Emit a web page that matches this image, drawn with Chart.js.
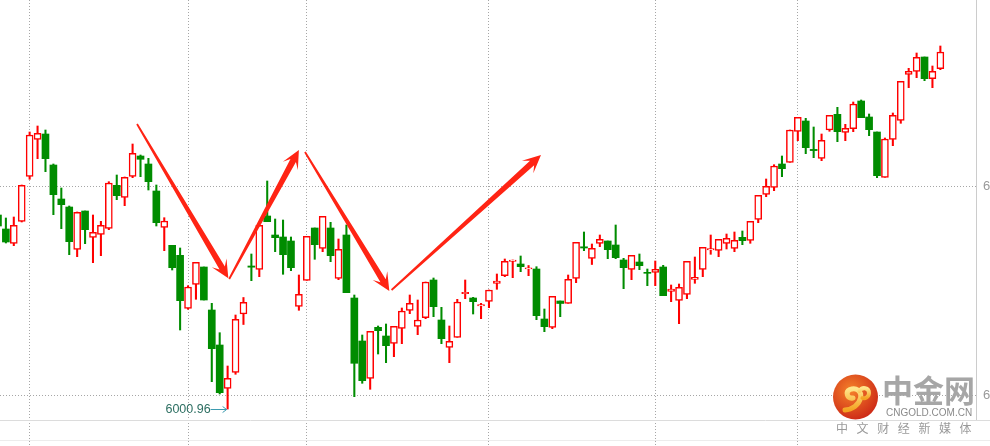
<!DOCTYPE html>
<html><head><meta charset="utf-8">
<script src="https://cdn.jsdelivr.net/npm/chart.js@4/dist/chart.umd.min.js"></script>
<style>
html,body{margin:0;padding:0;background:#fff;overflow:hidden;width:990px;height:446px;position:relative;}
#wrap{position:absolute;left:-7px;top:0;width:1030px;height:446px;}
.t{position:absolute;white-space:nowrap;line-height:1;}
#l440{position:absolute;left:0;top:440px;width:990px;height:1px;background:#ececec;}
</style></head><body>
<div id="wrap"><canvas id="c" width="1030" height="446" style="width:1030px;height:446px"></canvas></div>
<div id="l440"></div>
<svg style="position:absolute;left:832px;top:374px" width="48" height="48" viewBox="0 0 48 48">
<defs>
<radialGradient id="g" cx="40%" cy="35%" r="70%"><stop offset="0" stop-color="#f5822a"/><stop offset="1" stop-color="#cc2716"/></radialGradient>
<linearGradient id="yy" x1="0" y1="0" x2="0" y2="1"><stop offset="0" stop-color="#ffe58a"/><stop offset="1" stop-color="#f4a322"/></linearGradient>
</defs>
<circle cx="23.5" cy="23" r="22.5" fill="url(#g)"/>
<path d="M21 24 C15 25 13 18 18 15.5 C24 13 30 17 28.5 24 C27 31 20 35.5 13 36" fill="none" stroke="url(#yy)" stroke-width="5" stroke-linecap="round"/>
<path d="M27.5 17 C30 12.5 37 13.5 37 19 C37 23 33 25 30.5 24" fill="none" stroke="url(#yy)" stroke-width="4" stroke-linecap="round"/>
</svg>
<div class="t" style="left:882px;top:373px;font-size:31px;font-weight:bold;color:#a6a6a6;font-family:'Noto Sans CJK SC',sans-serif;">中金网</div>
<div class="t" style="left:886px;top:408px;font-size:10px;line-height:10px;color:#8a8a8a;font-family:'Liberation Sans',Arial,sans-serif;">CNGOLD.COM.CN</div>
<div class="t" style="left:836px;top:422px;font-size:12px;letter-spacing:8.6px;color:#9a9a9a;font-family:'Noto Sans CJK SC',sans-serif;">中文财经新媒体</div>
<script>
// ---- data (one entry per trading day) ----
const categories = Array.from({length:124}, (_, i) => 'D' + (i + 1));
const opens = [
6195, 6181, 6166.7, 6188.7, 6233.7, 6270.7, 6276, 6245, 6211, 6203,
6160.7, 6199, 6172.7, 6175.7, 6181.7, 6224.7, 6212.7, 6233.7, 6254, 6246,
6219, 6182.7, 6164.7, 6154.7, 6101.7, 6125.7, 6143, 6100, 6065, 6021.7,
6037.7, 6096, 6144, 6140.7, 6194, 6175, 6173, 6169, 6103.7, 6129.7,
6182, 6161.7, 6182, 6131.7, 6175, 6112, 6069, 6031.7, 6082.7, 6074,
6066.7, 6081.7, 6099.7, 6083.7, 6092.3, 6130, 6090, 6062.7, 6072.7, 6116.4,
6112, 6104.1, 6108.7, 6126.7, 6134.3, 6148.7, 6146, 6141, 6141, 6091,
6082.5, 6109, 6106.7, 6131.7, 6163.2, 6151.7, 6166.5, 6169, 6165, 6150,
6140.7, 6148, 6137.7, 6137.7, 6143, 6118.7, 6109.7, 6115.7, 6130.7, 6140.7,
6160.1, 6159.7, 6166.7, 6161.7, 6172.7, 6169.7, 6190.7, 6215.7, 6222.7, 6246,
6247.7, 6278.7, 6289, 6260.6, 6251.7, 6280, 6295.7, 6277.7, 6281.3, 6309,
6293, 6278, 6232.7, 6270.7, 6289.7, 6335.7, 6338.7, 6353, 6331.3, 6341.3];
const closes = [
6184, 6168, 6184.7, 6224.7, 6275, 6276.7, 6251.3, 6215.3, 6205.3, 6168.3,
6197.7, 6180.3, 6177.7, 6184.7, 6227, 6214.3, 6232.7, 6256.7, 6250.7, 6228.3,
6187.3, 6189, 6142.3, 6109.3, 6123, 6147.7, 6110, 6061.3, 6017.3, 6031.7,
6090.7, 6107.7, 6142.8, 6184.7, 6188.3, 6172.3, 6155.3, 6142.3, 6115.7, 6173.7,
6165.3, 6193.7, 6154.3, 6160.7, 6117.3, 6046.7, 6029.3, 6078.7, 6079.3, 6064.3,
6083.7, 6099, 6106.7, 6090, 6128, 6103.3, 6071.3, 6068.7, 6108, 6117.6,
6108.3, 6105.3, 6120, 6129, 6148.7, 6150, 6143.3, 6142.2, 6094.3, 6083.3,
6113.7, 6106.5, 6130.7, 6167.7, 6162, 6161.7, 6170.7, 6160.3, 6152.3, 6142.3,
6154.7, 6144.3, 6136.7, 6140.7, 6114.3, 6121, 6122.7, 6148.7, 6132.7, 6162.7,
6161.3, 6170.7, 6171.7, 6169.7, 6169.3, 6188.7, 6214.7, 6223.7, 6244, 6241.3,
6280, 6292.7, 6262.3, 6259.4, 6269.7, 6294.7, 6278.3, 6281.7, 6306, 6292.3,
6280.3, 6234.3, 6271, 6294.7, 6328.7, 6338.7, 6352.7, 6331.3, 6338.7, 6358];
const highs = [
6198, 6192, 6193, 6225, 6278, 6284, 6280, 6246, 6222, 6204,
6198, 6199, 6195, 6188.7, 6228.3, 6235, 6233, 6266, 6255, 6251.7,
6225, 6192.3, 6164.7, 6162, 6124.3, 6147.7, 6143, 6106.7, 6077.3, 6044,
6095, 6112.5, 6156, 6184.7, 6229, 6191, 6190, 6173, 6135, 6173.7,
6182, 6193.7, 6187.7, 6171, 6185, 6115, 6075, 6078.7, 6084, 6086,
6083.7, 6102, 6115, 6110, 6128, 6132, 6102.7, 6084, 6110.7, 6130,
6112.7, 6106.7, 6120, 6136, 6151, 6150, 6154, 6144.5, 6143.3, 6101,
6113.7, 6109, 6135, 6167.7, 6178, 6166, 6175, 6169, 6185, 6151.7,
6154.7, 6156, 6141, 6149, 6144.7, 6125, 6126, 6148.7, 6153, 6162.7,
6175, 6170.7, 6176, 6178, 6179, 6188.7, 6214.7, 6231, 6245.3, 6254,
6280, 6292.7, 6291.7, 6283, 6276, 6294.7, 6302.7, 6285.7, 6308, 6310,
6296, 6278, 6272, 6297, 6328.7, 6341.7, 6357, 6353, 6344, 6364];
const lows = [
6182, 6167, 6164.3, 6188, 6230.7, 6251.3, 6238.3, 6195.3, 6181.3, 6155.3,
6153.3, 6166.3, 6147.3, 6154.3, 6180.3, 6210.3, 6204.3, 6232.3, 6233.3, 6220,
6184, 6159.3, 6140, 6080, 6100.7, 6110.7, 6110, 6028.3, 6016, 6000.96,
6035.7, 6085.5, 6129.3, 6133.3, 6188.3, 6158.3, 6135.7, 6139.3, 6099.7, 6129.7,
6150.7, 6158.3, 6148.3, 6130.3, 6117.3, 6013.3, 6026.7, 6020.7, 6056, 6047.3,
6053.3, 6066.3, 6096.3, 6075.3, 6091.3, 6093.3, 6066.3, 6047.3, 6072.7, 6111.3,
6096, 6091.3, 6102.3, 6120.7, 6133.3, 6132.3, 6138.3, 6134.3, 6090.3, 6078.3,
6081.3, 6093.3, 6106.7, 6127.3, 6159.3, 6145.5, 6163.3, 6151.3, 6151.3, 6121.3,
6130.3, 6140.3, 6124.3, 6124.3, 6114.3, 6108.3, 6086.3, 6111.3, 6126.7, 6133.3,
6155.7, 6153.3, 6161, 6158.3, 6165.3, 6166.7, 6187.3, 6213.3, 6219.3, 6233.3,
6247.7, 6269.3, 6256.3, 6252.3, 6249.3, 6278.7, 6268.3, 6269.3, 6278.3, 6292.3,
6274.3, 6232.3, 6232.7, 6264.3, 6286.7, 6322.3, 6332.3, 6329.3, 6322.3, 6340.3];
const yTicks = [6015, 6224];
const monthStarts = [4, 24, 39, 62, 83, 101];
// trend arrows drawn on the chart: [fromIndex, fromPrice, toIndex, toPrice]
const trendArrows = [
  [17.56, 6286, 29.09, 6131.7],
  [29.2, 6131, 38.0, 6260],
  [38.77, 6258, 49.42, 6119],
  [49.7, 6120, 68.57, 6255]
];

const UP = '#ff0000', DOWN = '#008c00', GRID = '#a6a6a6';
const isUp = i => closes[i] >= opens[i];

function drawArrow(ctx, x0, y0, x1, y1) {
  const dx = x1 - x0, dy = y1 - y0, len = Math.hypot(dx, dy);
  const ux = dx / len, uy = dy / len, nx = -uy, ny = ux;
  const sw0 = 0.9, sw1 = 3.1, Hn = 12, Hb = 18, W = 8.5;
  const jx = x1 - ux * Hn, jy = y1 - uy * Hn;
  const bx = x1 - ux * Hb, by = y1 - uy * Hb;
  ctx.fillStyle = '#ff2414';
  ctx.beginPath();
  ctx.moveTo(x0 + nx * sw0, y0 + ny * sw0);
  ctx.lineTo(jx + nx * sw1, jy + ny * sw1);
  ctx.lineTo(bx + nx * W, by + ny * W);
  ctx.lineTo(x1, y1);
  ctx.lineTo(bx - nx * W, by - ny * W);
  ctx.lineTo(jx - nx * sw1, jy - ny * sw1);
  ctx.lineTo(x0 - nx * sw0, y0 - ny * sw0);
  ctx.closePath();
  ctx.fill();
}

const annot = {
  id: 'annot',
  afterDraw(chart) {
    const {ctx, chartArea, scales: {x, y}} = chart;
    ctx.save();
    ctx.strokeStyle = '#dcdcdc'; ctx.lineWidth = 1;
    const yb = Math.round(chartArea.bottom) + 0.5;
    ctx.beginPath(); ctx.moveTo(0, yb); ctx.lineTo(chart.width, yb); ctx.stroke();
    trendArrows.forEach(a => drawArrow(ctx,
      x.getPixelForValue(a[0]), y.getPixelForValue(a[1]),
      x.getPixelForValue(a[2]), y.getPixelForValue(a[3])));
    const minLow = Math.min(...lows);
    const li = lows.indexOf(minLow);
    const lx = x.getPixelForValue(li) - 1, ly = Math.round(y.getPixelForValue(minLow)) + 0.5;
    ctx.strokeStyle = '#3d9bb0'; ctx.lineWidth = 1;
    ctx.beginPath(); ctx.moveTo(lx - 16, ly); ctx.lineTo(lx, ly);
    ctx.moveTo(lx - 4, ly - 3); ctx.lineTo(lx, ly); ctx.lineTo(lx - 4, ly + 3); ctx.stroke();
    ctx.fillStyle = '#2d6f62';
    ctx.font = '12.5px "Liberation Sans", Arial, sans-serif';
    ctx.textAlign = 'right'; ctx.textBaseline = 'middle';
    ctx.fillText(minLow.toFixed(2), lx - 16, ly);
    ctx.restore();
  }
};

new Chart(document.getElementById('c'), {
  type: 'bar',
  data: {
    labels: categories,
    datasets: [
      {
        label: 'wick', order: 2, grouped: false,
        data: lows.map((l, i) => [l, highs[i]]),
        backgroundColor: lows.map((_, i) => isUp(i) ? UP : DOWN),
        borderWidth: 0, barThickness: 1.4
      },
      {
        label: 'body', order: 1, grouped: false,
        data: opens.map((o, i) => [o, closes[i]]),
        backgroundColor: opens.map((_, i) => isUp(i) ? '#ffffff' : DOWN),
        borderColor: opens.map((_, i) => isUp(i) ? UP : DOWN),
        borderWidth: opens.map((_, i) => isUp(i) ? 1.5 : 0),
        borderSkipped: false, barThickness: 7
      }
    ]
  },
  options: {
    responsive: false, animation: false, devicePixelRatio: 1,
    layout: {padding: {left: 1, right: 0, top: 0, bottom: 0}},
    plugins: {legend: {display: false}, tooltip: {enabled: false}},
    scales: {
      x: {
        type: 'category', offset: true,
        afterFit: s => { s.height = 26; },
        grid: {
          offset: false, drawOnChartArea: true, drawTicks: true, tickLength: 26,
          color: c => monthStarts.includes(c.index) ? GRID : 'rgba(0,0,0,0)',
          tickColor: c => monthStarts.includes(c.index) ? GRID : 'rgba(0,0,0,0)',
          tickBorderDash: [1, 2]
        },
        border: {display: false, dash: [1, 2]},
        ticks: {display: false, autoSkip: false}
      },
      y: {
        position: 'right', min: 5990, max: 6410,
        afterBuildTicks: s => { s.ticks = yTicks.map(v => ({value: v})); },
        afterFit: s => { s.width = 47; s.paddingTop = 0; s.paddingBottom = 0; },
        grid: {color: GRID, drawTicks: false},
        border: {display: true, color: '#cccccc', dash: [1, 2]},
        ticks: {padding: 7, color: '#999999', font: {size: 13, family: '"Liberation Sans", Arial, sans-serif'},
                callback: v => String(v)}
      }
    }
  },
  plugins: [annot]
});
</script>
</body></html>
